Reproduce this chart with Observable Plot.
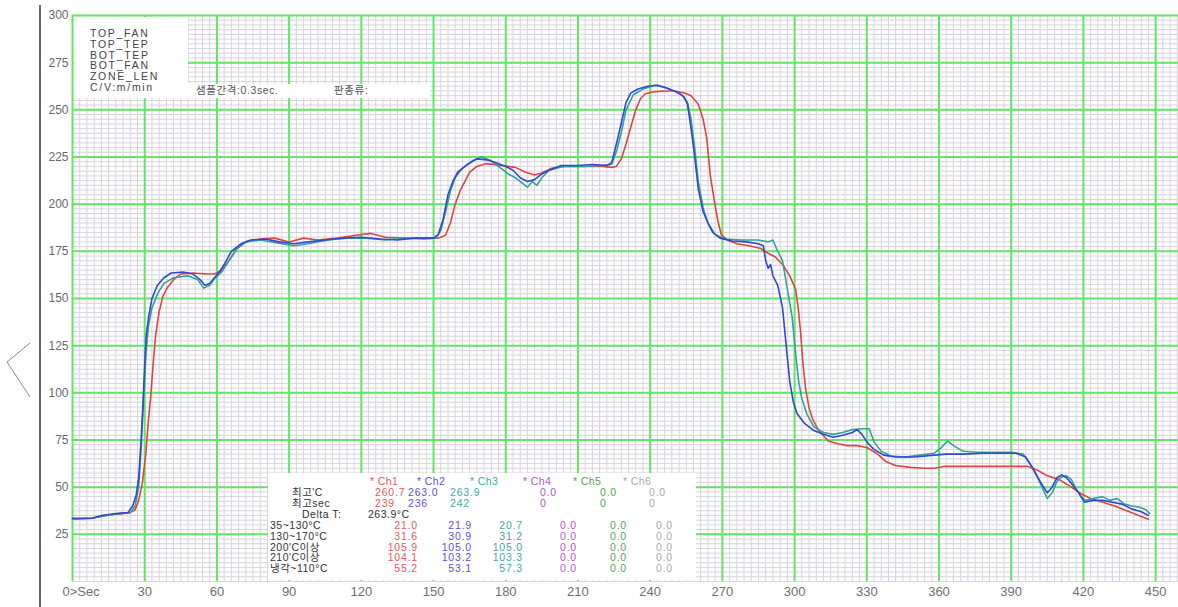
<!DOCTYPE html>
<html>
<head>
<meta charset="utf-8">
<script src="https://cdn.jsdelivr.net/npm/d3@7"></script>
<script src="https://cdn.jsdelivr.net/npm/@observablehq/plot@0.6"></script>
<style>
  html, body { margin: 0; padding: 0; background: #fff; }
  #wrap { position: relative; width: 1178px; height: 607px; overflow: hidden; font-family: "Liberation Sans", Arial, "Noto Sans CJK KR", sans-serif; }
  #chart { position: absolute; left: 0; top: 0; }
  .axisline { position: absolute; left: 39px; top: 5px; width: 2px; height: 602px; background: #6a6a6a; }
  .chev { position: absolute; left: 0; top: 0; }
  .box { position: absolute; background: #fff; }
  .t { position: absolute; white-space: nowrap; font-size: 10.5px; line-height: 10px; height: 10px; }
</style>
</head>
<body>
<div id="wrap">
  <div id="chart"></div>
  <div class="axisline"></div>
  <svg class="chev" width="40" height="607"><polyline points="30,343 7,362 30,397" fill="none" stroke="#888" stroke-width="1"/></svg>
</div>
<script>
// ---- data ----
const channels = ["Ch1", "Ch2", "Ch3", "Ch4", "Ch5", "Ch6"];
const channelColors = ["#e0443e", "#3346d6", "#2fa596", "#b04cc0", "#4ca24c", "#a8a8a8"];
const tableColors = ["#e8585c", "#5656e0", "#44aaa0", "#b456c4", "#56a456", "#ababab"];

const ch1 = [[0,33],[8,33.5],[14,35],[20,36],[24,36.5],[26,38],[27.5,43],[29,52],[30.5,68],[31.5,85],[32.5,98],[33.5,115],[34.5,130],[36,143],[37.5,151],[39.5,156],[42,160],[45,163],[50,163.5],[56,163],[59,163],[62,165],[65,170],[68,176],[72,180],[78,181.5],[84,182],[90,180],[96,182],[102,181],[110,182],[118,183.5],[124,184.5],[130,182.5],[138,182],[146,182],[152,182],[155,183.5],[157,190],[159,200],[161,207],[163,212],[165,217],[168,220],[172,221.5],[178,220.5],[184,219.5],[188,217],[192,215.5],[195,216.5],[199,219],[204,220],[212,220],[220,220],[224,219.5],[226,220],[228,224],[230,232],[232,241],[234,250],[236,256],[238,258.5],[241,259.5],[246,260],[250,260],[254,259],[257,257.5],[260,253],[262,245],[263.5,235],[265,215],[266.5,203],[268,192],[269.5,184],[272,181],[276,179],[281,178],[286,176.5],[289,174],[292,172],[295,168],[298,162],[300.4,155],[301.5,145],[302.5,132],[303.5,115],[304.6,102],[306,92],[307.5,86],[310,80],[314,74.5],[318,73],[322,72],[326,72],[330,71],[334,68],[338,63.5],[342,61.5],[348,60.5],[354,60],[358,60],[362,61],[370,61],[380,61],[390,61],[397,61],[401,59],[405,56],[410,54],[415,50],[419,46.5],[423,44],[428,42],[433,40],[438,37.5],[443,35],[447,33]];

const ch2 = [[0,33.5],[8,33.5],[12,35],[18,36],[23,36.5],[25,40],[26.5,46],[27.5,55],[28.5,75],[29.3,95],[30,115],[30.6,130],[31.6,140],[33,150],[35.3,157],[38,161],[41,163.5],[46,164],[50,163],[53,160],[55,157],[57,158],[59,161],[61,164],[63,168],[66,175],[70,179],[74,181],[80,181.5],[86,180],[92,179],[98,180],[105,181],[112,182],[120,182.5],[128,181.5],[135,181],[142,182],[150,182],[152,184],[154,192],[156,205],[158,212],[160,217],[164,221],[168,224],[172,223.5],[176,222],[180,220],[183,218],[186,214],[189,212],[192,213],[195,216],[198,218],[203,220.5],[210,220.5],[216,221],[222,220.5],[224,222],[226,232],[228,243],[230,254],[232,259],[235,261],[239,262.5],[243,263],[247,261.5],[251,259.5],[254,257],[255.5,253],[257,240],[258.5,225],[260,208],[262,196],[264,190],[266,185],[269,182],[274,180.5],[280,180],[285,179],[287,178],[288,170],[289,166],[290,168],[291,162],[293,157],[295,145],[296.5,125],[298,106],[299.5,95],[301,89],[304,84],[308,80],[312,78],[316,76.5],[320,77.5],[324,79],[326,80.5],[328,78],[330,74],[333,70],[337,67],[342,66],[350,66],[358,67],[363,67.5],[370,67.5],[378,68],[385,68],[392,68],[396,66],[399,60],[402,53],[405,47],[407,50],[409,55],[411,56.5],[413,55],[415,52],[418,47],[420.5,42],[424,43],[428,43],[432,42],[436,41],[440,38.5],[444,37],[447,35]];

const ch3 = [[0,33],[8,33.5],[14,35],[20,36],[24,36.5],[26,40],[27.5,50],[28.5,70],[29.5,95],[30.5,120],[31.5,135],[33,145],[35.5,153],[38,158],[42,161],[48,162],[52,160],[54.5,155.5],[57,157],[59,160.5],[62,164],[65,170],[68,176],[72,180],[78,181],[85,179.5],[92,178],[98,179],[106,181],[114,182],[122,182],[130,181],[138,182],[146,181.5],[151,182],[153,186],[155,196],[157,207],[159,214],[162,219],[166,223],[170,225],[174,223],[178,219],[181,216],[184,214],[187,211],[189,209],[191,212],[193,210],[195,214],[198,218],[204,220],[212,220],[220,220.5],[224,221],[226,228],[228,238],[230,250],[233,258],[237,261],[242,263],[246,262],[250,260],[253,258],[255.5,254],[257,245],[258.5,230],[260,212],[262,198],[264,190],[267,184],[271,181.5],[278,181],[285,181],[289,180],[291,181],[293,175],[295,170],[297,155],[299,140],[300.5,120],[301.7,106],[303,97],[305,89],[308,82],[312,79],[316,78],[320,79],[324,80.5],[328,81],[331,81],[333,74],[336,69],[340,66.5],[346,66],[352,67],[358,68],[361,71],[363.5,74.5],[366,72],[370,69],[376,68.5],[383,68.5],[390,68.5],[395,67.5],[398,62],[401,55],[403.5,48],[405,44],[407,47],[409,53],[411,55.5],[413,56],[415,54],[417,49],[419,45],[421,43],[424,44],[428,45],[431,43],[434,44],[437,41],[440,40],[443,39.5],[446,38],[447.5,36]];

const xTicks = [0, 30, 60, 90, 120, 150, 180, 210, 240, 270, 300, 330, 360, 390, 420, 450];
const yTicks = [25, 50, 75, 100, 125, 150, 175, 200, 225, 250, 275, 300];

const infoLines = ["TOP_FAN", "TOP_TEP", "BOT_TEP", "BOT_FAN", "ZONE_LEN", "C/V:m/min"];
const sampleText = "샘플간격:0.3sec.";
const plateText = "판종류:";

const peakTemp = ["260.7", "263.0", "263.9", "0.0", "0.0", "0.0"];
const peakSec = ["239", "236", "242", "0", "0", "0"];
const deltaT = "263.9°C";
const rangeLabels = ["35~130°C", "130~170°C", "200'C이상", "210'C이상", "냉각~110°C"];
const rangeValues = [
  ["21.0", "21.9", "20.7", "0.0", "0.0", "0.0"],
  ["31.6", "30.9", "31.2", "0.0", "0.0", "0.0"],
  ["105.9", "105.0", "105.0", "0.0", "0.0", "0.0"],
  ["104.1", "103.2", "103.3", "0.0", "0.0", "0.0"],
  ["55.2", "53.1", "57.3", "0.0", "0.0", "0.0"]
];

// ---- build line data ----
const series = [["Ch1", ch1], ["Ch3", ch3], ["Ch2", ch2]];
const rows = [];
for (const [name, pts] of series) for (const [t, v] of pts) rows.push({ch: name, t, v});

const minorX = d3.range(0, 460, 3);
const minorY = d3.range(0, 300.01, 2.5);

const chart = Plot.plot({
  width: 1178,
  height: 607,
  marginLeft: 72,
  marginRight: 0,
  marginTop: 15,
  marginBottom: 26,
  style: {fontFamily: "Liberation Sans, Arial, sans-serif", background: "transparent"},
  x: {domain: [0, 459.5]},
  y: {domain: [0, 300]},
  color: {domain: channels, range: channelColors},
  marks: [
    Plot.ruleX(minorX, {stroke: "#d8d3de", strokeWidth: 1}),
    Plot.ruleY(minorY, {stroke: "#d8d3de", strokeWidth: 1}),
    Plot.ruleX(xTicks, {stroke: "#66e466", strokeWidth: 2}),
    Plot.ruleY(yTicks, {stroke: "#66e466", strokeWidth: 2}),
    Plot.line(rows, {x: "t", y: "v", z: "ch", stroke: "ch", strokeWidth: 1.6}),
    Plot.axisY({ticks: yTicks, tickSize: 0, tickPadding: 4, fontSize: 12, color: "#6a6a6a", label: null}),
    Plot.axisX({ticks: xTicks.filter(d => d > 0), tickSize: 0, tickPadding: 5, fontSize: 13, color: "#707070", label: null}),
    Plot.axisX({ticks: [0], tickFormat: () => "0>Sec", textAnchor: "start", dx: -10, tickSize: 0, tickPadding: 5, fontSize: 13, color: "#707070", label: null})
  ]
});
document.getElementById("chart").appendChild(chart);

// ---- overlays ----
const wrap = document.getElementById("wrap");
function box(l, t, w, h) {
  const d = document.createElement("div");
  d.className = "box";
  Object.assign(d.style, {left: l + "px", top: t + "px", width: w + "px", height: h + "px"});
  wrap.appendChild(d);
}
function txt(s, opts) {
  const d = document.createElement("div");
  d.className = "t";
  d.textContent = s;
  Object.assign(d.style, opts);
  wrap.appendChild(d);
  return d;
}

// top-left info box
box(74, 17, 114, 81);
box(188, 84, 242, 14);
infoLines.forEach((s, i) => txt(s, {left: "90px", top: (28 + i * 10.8) + "px", letterSpacing: "1.7px", color: "#444"}));
txt(sampleText, {left: "196px", top: "85px", letterSpacing: "0.6px", color: "#555"});
txt(plateText, {left: "334px", top: "85px", letterSpacing: "0.6px", color: "#555"});

// bottom table
box(268, 473, 428, 107);
const rowY = [481, 492, 502.5, 513.5, 525, 535.5, 546.5, 557, 568];
const headLeft = [370, 417, 470, 523, 573, 623];
const topLeft = [375, 408, 450, 540, 600, 649];
const valRight = [418, 472, 523, 577, 627, 673];
const lab = {color: "#333", letterSpacing: "0.5px"};
channels.forEach((c, i) => txt("* " + c, {left: headLeft[i] + "px", top: (rowY[0] - 5) + "px", color: tableColors[i], letterSpacing: "0.4px"}));
txt("최고'C", Object.assign({left: "292px", top: (rowY[1] - 5) + "px"}, lab));
txt("최고sec", Object.assign({left: "292px", top: (rowY[2] - 5) + "px"}, lab));
peakTemp.forEach((v, i) => txt(v, {left: topLeft[i] + "px", top: (rowY[1] - 5) + "px", color: tableColors[i], letterSpacing: "0.8px"}));
peakSec.forEach((v, i) => txt(v, {left: topLeft[i] + "px", top: (rowY[2] - 5) + "px", color: tableColors[i], letterSpacing: "0.8px"}));
txt("Delta T:", Object.assign({left: "302px", top: (rowY[3] - 5) + "px"}, lab));
txt(deltaT, Object.assign({left: "368px", top: (rowY[3] - 5) + "px"}, lab));
rangeLabels.forEach((s, r) => {
  txt(s, Object.assign({left: "270px", top: (rowY[4 + r] - 5) + "px"}, lab));
  rangeValues[r].forEach((v, i) => txt(v, {right: (1178 - valRight[i]) + "px", top: (rowY[4 + r] - 5) + "px", color: tableColors[i], letterSpacing: "0.8px"}));
});
</script>
</body>
</html>
